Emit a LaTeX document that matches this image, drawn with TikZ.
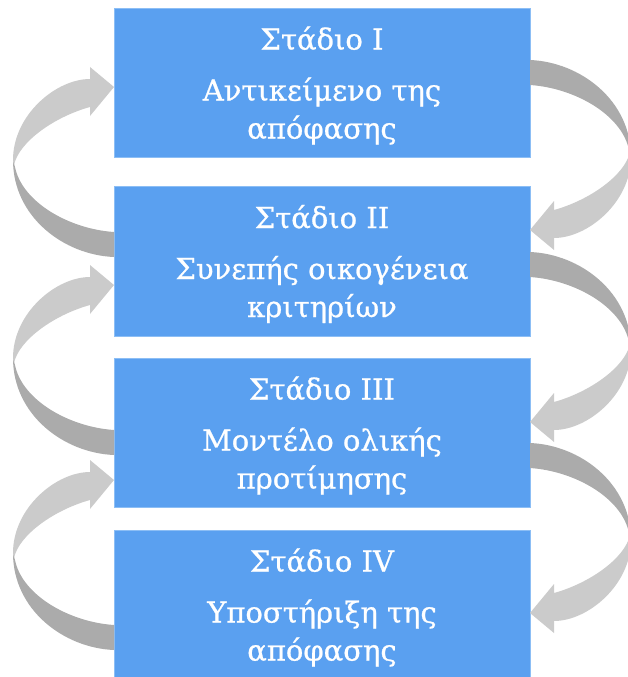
\documentclass[tikz,border=0pt]{standalone}
\usepackage{fontspec}
\setmainfont{DejaVu Serif}
\newfontfamily\boxfont{DejaVu Serif}[FakeBold=0.8]
\usetikzlibrary{calc}
\definecolor{boxblue}{RGB}{90,160,240}
\definecolor{boxedge}{RGB}{140,190,245}
\definecolor{arrowlight}{RGB}{203,203,203}
\definecolor{arrowdark}{RGB}{171,171,171}
\tikzset{
  stagebox/.style={fill=boxblue, draw=boxedge, line width=0.6pt, minimum width=416pt,
    minimum height=149pt, inner sep=0pt, outer sep=0pt},
  stagetext/.style={text=white, inner sep=0pt, align=center,
    font=\boxfont\fontsize{29}{38}\selectfont},
  lightpart/.style={fill=arrowlight, draw=none},
  darkpart/.style={fill=arrowdark, draw=none},
}
\newcommand{\loopArrow}[2]{%
  \begin{scope}[shift={#1}, rotate=#2]
    \fill[darkpart] (-101,73) .. controls (-101,130) and (-50,168) .. (0,170)
      -- (0,145) .. controls (-45,142) and (-92,115) .. (-99,80) -- cycle;
    \fill[lightpart] (0,0) -- (-24,-20) -- (-24,-8)
      .. controls (-58,-8) and (-101,28) .. (-101,73) -- (-100,78)
      .. controls (-95,55) and (-60,30) .. (-24,20) -- (-24,29) -- cycle;
  \end{scope}}
\begin{document}
\begin{tikzpicture}[x=1pt, y=-1pt]
  \useasboundingbox (0,0) rectangle (627,677);
  \node[stagebox] (b1) at (322,82.5) {};
  \node[stagebox, minimum height=150pt] (b2) at (322,261) {};
  \node[stagebox] (b3) at (322,432.5) {};
  \node[stagebox] (b4) at (322,604.5) {};
  \node[stagetext] (t1) at ($(b1.center)+(0,3)$) {Στάδιο I\\[13pt] Αντικείμενο της\\ απόφασης};
  \node[stagetext] (t2) at ($(b2.center)+(0,3)$) {Στάδιο II\\[13pt] Συνεπής οικογένεια\\ κριτηρίων};
  \node[stagetext] (t3) at ($(b3.center)+(0,3)$) {Στάδιο III\\[13pt] Μοντέλο ολικής\\ προτίμησης};
  \node[stagetext] (t4) at ($(b4.center)+(0,3)$) {Στάδιο IV\\[13pt] Υποστήριξη της\\ απόφασης};
  % left arrows (lower stage back to upper stage)
  \loopArrow{($(b1.north west)+(0,79)$)}{0}
  \loopArrow{($(b2.north west)+(0,99)$)}{0}
  \loopArrow{($(b3.north west)+(0,122)$)}{0}
  % right arrows (upper stage to lower stage)
  \loopArrow{($(b2.north east)+(0,44)$)}{180}
  \loopArrow{($(b3.north east)+(0,64)$)}{180}
  \loopArrow{($(b4.north east)+(0,83)$)}{180}
\end{tikzpicture}
\end{document}
